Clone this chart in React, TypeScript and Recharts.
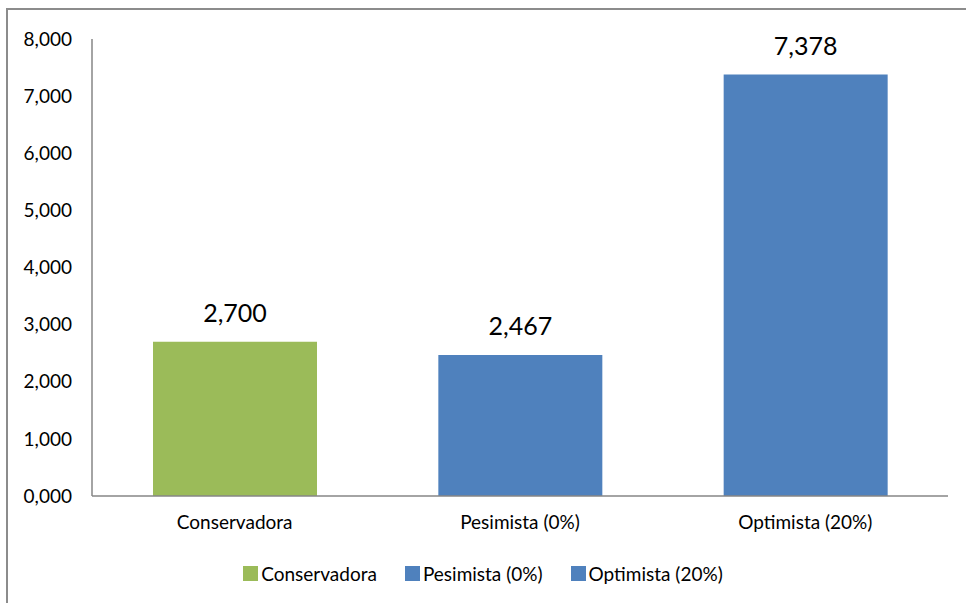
import { BarChart, Bar, XAxis, YAxis, Cell, LabelList } from 'recharts';

// Escenarios y valores
const scenarios = ['Conservadora', 'Pesimista (0%)', 'Optimista (20%)'];
const values = [2700, 2467, 7378];
const colors = ['#9BBB59', '#4F81BD', '#4F81BD'];
const yTicks = [0, 1000, 2000, 3000, 4000, 5000, 6000, 7000, 8000];

const data = scenarios.map((name, i) => ({ name, value: values[i] }));

const FONT = 'Lato, "Liberation Sans", sans-serif';

// 1000 -> "1,000", 0 -> "0,000"
const fmt = (v: number) => `${Math.floor(v / 1000)},${String(Math.round(v % 1000)).padStart(3, '0')}`;

const App = () => {
  return (
    <div style={{ position: 'fixed', left: 0, top: 0, width: 966, height: 603, background: '#fff', overflow: 'hidden' }}>
      <div
        style={{
          position: 'absolute',
          left: 6,
          top: 8,
          width: 980,
          height: 620,
          border: '2px solid #8c8c8c',
          boxSizing: 'border-box',
        }}
      />
      <BarChart
        width={966}
        height={603}
        data={data}
        margin={{ top: 39, right: 18, left: 0, bottom: 77 }}
        style={{ position: 'absolute', left: 0, top: 0 }}
      >
        <YAxis
          width={92}
          domain={[0, 8000]}
          ticks={yTicks}
          tickFormatter={fmt}
          axisLine={{ stroke: '#868686', strokeWidth: 1.5 }}
          tickLine={false}
          tickMargin={14}
          tick={{ fill: '#000', fontSize: 19, fontFamily: FONT }}
          interval={0}
        />
        <XAxis
          dataKey="name"
          axisLine={{ stroke: '#868686', strokeWidth: 1.5 }}
          tickLine={false}
          tickMargin={14}
          height={30}
          tick={{ fill: '#000', fontSize: 19, fontFamily: FONT }}
          interval={0}
        />
        <Bar dataKey="value" barSize={164} isAnimationActive={false}>
          {data.map((d, i) => (
            <Cell key={d.name} fill={colors[i]} />
          ))}
          <LabelList
            dataKey="value"
            position="top"
            offset={20}
            formatter={(v: any) => Number(v).toLocaleString('en-US')}
            style={{ fill: '#000', fontSize: 25, fontFamily: FONT }}
          />
        </Bar>
      </BarChart>
      {/* leyenda */}
      <div
        style={{
          position: 'absolute',
          top: 562,
          left: 0,
          width: 966,
          display: 'flex',
          justifyContent: 'center',
          gap: 28,
          fontFamily: FONT,
          fontSize: 19,
          color: '#000',
        }}
      >
        {scenarios.map((s, i) => (
          <span key={s} style={{ display: 'flex', alignItems: 'center' }}>
            <span style={{ width: 15, height: 15, background: colors[i], marginRight: 3, display: 'inline-block' }} />
            {s}
          </span>
        ))}
      </div>
    </div>
  );
};

export default App;
